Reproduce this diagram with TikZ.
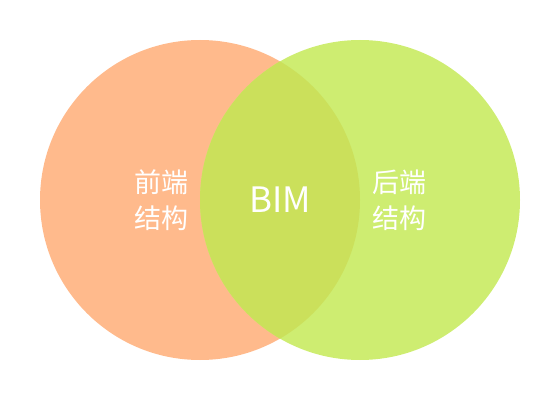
\documentclass[tikz,border=0pt]{standalone}
\usepackage{fontspec}
\setmainfont{Noto Sans CJK SC}
\usepackage{tikz}
\definecolor{frontcolor}{HTML}{FFBA8C}
\definecolor{backcolor}{HTML}{CEED71}
\definecolor{bimcolor}{HTML}{CBE05B}
\tikzstyle{set}=[circle,minimum size=320pt,inner sep=0pt,outer sep=0pt]
\tikzstyle{setlabel}=[text=white,align=center,inner sep=0pt,font=\fontsize{27}{36}\selectfont]
\tikzstyle{bimlabel}=[text=white,inner sep=0pt,font=\fontsize{35}{40}\selectfont]
\begin{document}
\begin{tikzpicture}[x=1pt,y=1pt]
	\useasboundingbox (0,0) rectangle (560,400);
	\node[set,fill=frontcolor] (front) at (200,200) {};
	\node[set,fill=backcolor]  (back)  at (360,200) {};
	\begin{scope}
		\clip (front.center) circle (160pt);
		\fill[bimcolor] (back.center) circle (160pt);
	\end{scope}
	\node[setlabel] (frontlbl) at (161,200) {前端\\结构};
	\node[setlabel] (backlbl)  at (399,200) {后端\\结构};
	\node[bimlabel] (bim)      at (280,200) {BIM};
\end{tikzpicture}
\end{document}
